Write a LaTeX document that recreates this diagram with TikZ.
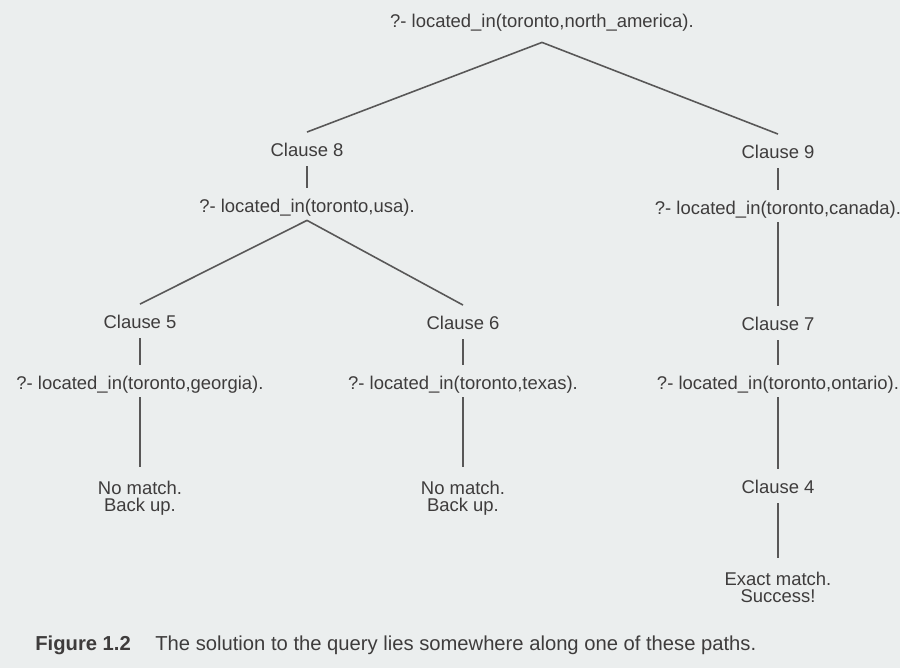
\documentclass[tikz,border=0pt]{standalone}
\usepackage{fontspec}
\setmainfont{Liberation Sans}
\usetikzlibrary{positioning}
\definecolor{paper}{RGB}{235,238,238}
\definecolor{ink}{RGB}{62,60,60}
\tikzset{
  goal/.style = {anchor=base,inner sep=0pt,text height=14pt,text depth=4pt,
    text=ink,font=\fontsize{10.5}{12}\selectfont},
  clause/.style = {goal,text depth=5pt},
  outcome/.style = {anchor=north,align=center,inner xsep=0pt,inner ysep=8pt,
    text=ink,font=\fontsize{10.5}{9.6}\selectfont},
  branch/.style = {draw=ink!85!paper,line width=0.9pt},
  caption/.style = {anchor=base west,inner sep=0pt,text=ink,
    font=\fontsize{11.5}{13}\selectfont}
}

\begin{document}
\begin{tikzpicture}[x=0.02cm,y=-0.02cm]
  \path[use as bounding box,fill=paper] (0,0) rectangle (900,668);

  % queries and clauses
  \node[goal,text depth=8pt] (root) at (542,28) {?- located\_in(toronto,north\_america).};
  \node[clause] (c8) at (307,157) {Clause 8};
  \node[clause] (c9) at (778,159) {Clause 9};
  \node[goal] (usa) at (307,213) {?- located\_in(toronto,usa).};
  \node[goal] (canada) at (778,215) {?- located\_in(toronto,canada).};
  \node[clause] (c5) at (140,329) {Clause 5};
  \node[clause] (c6) at (463,330) {Clause 6};
  \node[clause] (c7) at (778,331) {Clause 7};
  \node[goal] (georgia) at (140,390) {?- located\_in(toronto,georgia).};
  \node[goal] (texas) at (463,390) {?- located\_in(toronto,texas).};
  \node[goal] (ontario) at (778,390) {?- located\_in(toronto,ontario).};
  \node[clause] (c4) at (778,494) {Clause 4};

  % outcomes
  \node[outcome] (fail1) at (140,467) {No match.\\Back up.};
  \node[outcome] (fail2) at (463,467) {No match.\\Back up.};
  \node[outcome] (win) at (778,558) {Exact match.\\Success!};

  % search tree
  \draw[branch] (root.south) -- (c8.north);
  \draw[branch] (root.south) -- (c9.north);
  \draw[branch] (c8.south) -- (usa.north);
  \draw[branch] (c9.south) -- (canada.north);
  \draw[branch] (usa.south) -- (c5.north);
  \draw[branch] (usa.south) -- (c6.north);
  \draw[branch] (canada.south) -- (c7.north);
  \draw[branch] (c5.south) -- (georgia.north);
  \draw[branch] (c6.south) -- (texas.north);
  \draw[branch] (c7.south) -- (ontario.north);
  \draw[branch] (georgia.south) -- (fail1.north);
  \draw[branch] (texas.south) -- (fail2.north);
  \draw[branch] (ontario.south) -- (c4.north);
  \draw[branch] (c4.south) -- (win.north);

  \node[caption] (cap) at (35,651) {\textbf{Figure 1.2}\hspace{14pt}The solution to the query lies somewhere along one of these paths.};
\end{tikzpicture}
\end{document}
